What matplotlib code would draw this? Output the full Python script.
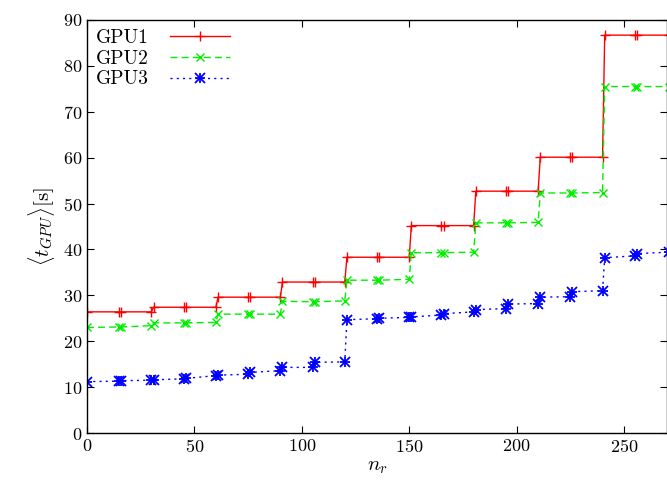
import matplotlib
matplotlib.use("Agg")
import matplotlib.pyplot as plt
from matplotlib.legend_handler import HandlerTuple
from matplotlib.ticker import MultipleLocator

plt.rcParams['font.family'] = ['cmr10', 'DejaVu Serif']
plt.rcParams['mathtext.fontset'] = 'cm'
plt.rcParams['axes.formatter.use_mathtext'] = True

n_r = [0, 15, 16, 30, 31, 45, 46, 60, 61, 75, 76, 90, 91, 105, 106, 120, 121,
       135, 136, 150, 151, 165, 166, 180, 181, 195, 196, 210, 211, 225, 226,
       240, 241, 255, 256, 271]

gpu1 = [26.4, 26.4, 26.4, 26.4, 27.4, 27.4, 27.4, 27.4, 29.6, 29.6, 29.6, 29.6,
        32.9, 32.9, 32.9, 32.9, 38.3, 38.3, 38.3, 38.3, 45.2, 45.2, 45.2, 45.2,
        52.7, 52.7, 52.7, 52.7, 60.1, 60.1, 60.1, 60.1, 86.7, 86.7, 86.7, 86.7]

gpu2 = [23.0, 23.1, 23.1, 23.4, 24.0, 24.0, 24.0, 24.1, 25.9, 25.9, 25.9, 25.9,
        28.7, 28.6, 28.6, 28.8, 33.3, 33.3, 33.3, 33.5, 39.3, 39.3, 39.3, 39.4,
        45.8, 45.8, 45.8, 45.9, 52.3, 52.3, 52.3, 52.4, 75.5, 75.5, 75.5, 75.5]

gpu3 = [11.2, 11.3, 11.4, 11.5, 11.6, 11.8, 11.9, 12.5, 12.6, 12.8, 13.2, 13.6,
        14.3, 14.3, 15.4, 15.5, 24.7, 24.9, 25.0, 25.2, 25.3, 25.7, 26.0, 26.4,
        26.9, 27.1, 28.1, 28.2, 29.6, 29.7, 30.8, 31.0, 38.2, 38.6, 39.1, 39.4]

labels = ["GPU1", "GPU2", "GPU3"]

fig = plt.figure(figsize=(6.67, 4.90), dpi=100)
ax = fig.add_axes([87/667, 1-433/490, 580/667, 413/490])

l1, = ax.plot(n_r, gpu1, color='#ff0000', lw=1.0, ls='-', marker='+', ms=7, mew=1.0)
l2, = ax.plot(n_r, gpu2, color='#00ee00', lw=1.0, ls=(0, (5, 3)), marker='x', ms=6, mew=1.0)
l3a, = ax.plot(n_r, gpu3, color='#0000ff', lw=1.0, ls=(0, (1.5, 3)), marker='+', ms=7.5, mew=1.3)
l3b, = ax.plot(n_r, gpu3, color='#0000ff', lw=0, marker='x', ms=6.5, mew=1.3)

ax.set_xlim(0, 270)
ax.set_ylim(0, 90)
ax.xaxis.set_major_locator(MultipleLocator(50))
ax.yaxis.set_major_locator(MultipleLocator(10))
ax.tick_params(direction='in', top=True, right=True, length=5, width=0.8, labelsize=13)
for s in ax.spines.values():
    s.set_linewidth(1.0)

ax.set_xlabel(r"$n_r$", fontsize=15, labelpad=2)
ax.set_ylabel(r"$\langle t_{GPU}\rangle[\mathrm{s}]$", fontsize=15, labelpad=4)

leg = ax.legend([l1, l2, (l3a, l3b)], labels, loc='upper left', frameon=False,
                markerfirst=False, handlelength=3.1, fontsize=14,
                handler_map={tuple: HandlerTuple(ndivide=1)},
                borderaxespad=0.0, borderpad=0.45, labelspacing=0.15, handletextpad=1.1)

fig.savefig("out.png", dpi=100)
